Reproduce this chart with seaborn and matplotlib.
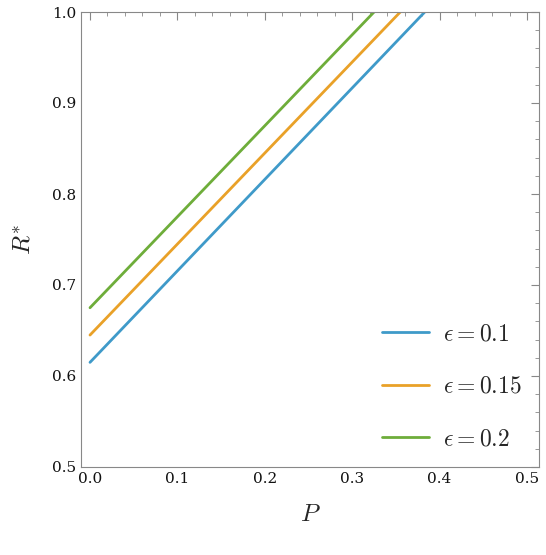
import matplotlib
matplotlib.use("Agg")
import matplotlib.pyplot as plt
import seaborn as sns
import pandas as pd
from matplotlib.ticker import MultipleLocator

eps_labels = [r"$\epsilon = 0.1$", r"$\epsilon = 0.15$", r"$\epsilon = 0.2$"]
p_start = [0.0, 0.0, 0.0]
p_end = [0.383, 0.355, 0.325]
r_start = [0.615, 0.645, 0.675]
r_end = [1.0, 1.0, 1.0]
colors = ["#3f9ac9", "#e9a128", "#6ead3a"]

rows = []
for lab, p0, p1, r0, r1 in zip(eps_labels, p_start, p_end, r_start, r_end):
    rows.append({"P": p0, "R": r0, "eps": lab})
    rows.append({"P": p1, "R": r1, "eps": lab})
df = pd.DataFrame(rows)

sns.set_style("white")
plt.rcParams["font.family"] = ["DejaVu Serif"]
plt.rcParams["mathtext.fontset"] = "cm"

fig = plt.figure(figsize=(5.46, 5.55), dpi=100)
ax = fig.add_axes([81/546, 1-467/555, (539-81)/546, (467-12)/555])
sns.lineplot(data=df, x="P", y="R", hue="eps", palette=colors, ax=ax, linewidth=2)
ax.set_xlim(-0.0103, 0.5137)
ax.set_ylim(0.5, 1.0)
ax.xaxis.set_major_locator(MultipleLocator(0.1))
ax.xaxis.set_minor_locator(MultipleLocator(0.02))
ax.yaxis.set_major_locator(MultipleLocator(0.1))
ax.yaxis.set_minor_locator(MultipleLocator(0.02))
ax.tick_params(which="both", direction="in", top=True, right=True, labelsize=11,
               color="#888888", labelcolor="#111111")
ax.tick_params(which="major", length=6)
ax.tick_params(which="minor", length=3)
for s in ax.spines.values():
    s.set_color("#888888")
ax.set_xlabel(r"$P$", fontsize=18, labelpad=12)
ax.set_ylabel(r"$R^{*}$", fontsize=18, labelpad=12)
ax.legend(title=None, frameon=False, fontsize=17, loc="lower right",
          bbox_to_anchor=(1.01, -0.01), labelspacing=1.25, handlelength=2.0, handletextpad=0.6)
fig.savefig("out.png", dpi=100)
